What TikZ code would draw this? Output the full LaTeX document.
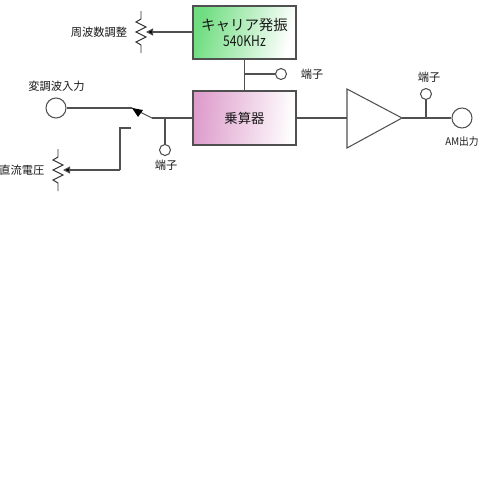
\documentclass[tikz,border=0pt]{standalone}
\usepackage{fontspec}
\setmainfont{Noto Sans CJK JP}
\usetikzlibrary{positioning,arrows.meta,calc}
\definecolor{linegray}{HTML}{505050}
\definecolor{carriergreen}{HTML}{6FDD80}
\definecolor{mixerpink}{HTML}{DD9CCB}
\tikzset{
  >=Stealth,
  block/.style={draw=linegray,line width=0.75pt,minimum width=2.575cm,inner sep=0pt,align=center,text=black!90},
  jack/.style={circle,draw=linegray,line width=0.75pt,fill=white,minimum size=0.5cm,inner sep=0pt},
  tap/.style={circle,draw=linegray,line width=0.75pt,fill=white,minimum size=0.275cm,inner sep=0pt},
  caption/.style={font=\fontsize{8pt}{9pt}\selectfont,text=black!90,inner sep=0pt},
  wire/.style={draw=linegray,line width=0.75pt},
  wiper/.style={wire,-{Triangle[length=5pt,width=5pt,fill=black]}},
  pics/zigzag/.style={code={
    \draw[black!80,line width=0.7pt] (0,-21) -- (0,-13) -- (-5,-10) -- (5,-5)
      -- (-5,0) -- (5,5) -- (-5,10) -- (0,13) -- (0,21);
  }},
}
\begin{document}
\begin{tikzpicture}[x=0.025cm,y=-0.025cm]
\useasboundingbox (0,0) rectangle (480,480);

% blocks
\node[block,minimum height=1.325cm,shade,top color=carriergreen,bottom color=white,shading angle=75] (carrier) at (244.5,32.5)
  {{\fontsize{10.3pt}{12pt}\selectfont キャリア発振}\\[-1pt]{\fontsize{10.5pt}{10pt}\selectfont\scalebox{0.82}[1]{540KHz}}};
\node[block,minimum height=1.35cm,shade,top color=mixerpink,bottom color=white,shading angle=85,font=\fontsize{9.5pt}{11pt}\selectfont] (mixer) at (244.5,118) {乗算器};

% amplifier
\coordinate (ampin) at (347,118);
\coordinate (ampout) at (402,118);
\draw[wire] (347,89) -- (ampout) -- (347,148) -- cycle;

% jacks and taps
\node[jack] (input) at (56,108) {};
\node[jack] (output) at (462,118) {};
\node[tap] (tapa) at (281,74) {};
\node[tap] (tapb) at (165,150) {};
\node[tap] (tapc) at (426,94) {};

% switch
\coordinate (swa) at (132,108);
\coordinate (swb) at (152,118);
\coordinate (swc) at (131,128);
\coordinate (swd) at (120,128);
\coordinate (swe) at (120,170);
\coordinate (jb) at (165,118);
\coordinate (ja) at (244.5,74);
\coordinate (jc) at (426,118);

% pots
\pic (pota) at (141,32) {zigzag};
\pic (potb) at (58,170) {zigzag};
\coordinate (wipa) at (146,32);
\coordinate (wipb) at (63,170);

% labels
\node[caption,anchor=east] (lfreq) at (127.5,32) {周波数調整};
\node[caption] (lmod) at (56.5,86) {変調波入力};
\node[caption,anchor=west] (ldc) at (-1,170) {直流電圧};
\node[caption] (ltapa) at (312,74) {端子};
\node[caption] (ltapb) at (166,165) {端子};
\node[caption] (ltapc) at (429,77) {端子};
\node[caption,font=\fontsize{7.5pt}{9pt}\selectfont] (lam) at (462,142) {\scalebox{0.92}[1]{AM出力}};

\path[wire]
  (carrier) -- (mixer)
  (ja) -- (tapa)
  (mixer.east |- ampin) -- (ampin)
  (ampout) -- (output)
  (jc) -- (tapc)
  (input) -- (swa)
  (swb) -- (mixer.west |- swb)
  (jb) -- (tapb)
  (swc) -- (swd) -- (swe);
\draw[wire] (swa) -- (swb);
\fill[black] (132,108) -- (143,110) -- (138,117) -- cycle;
\draw[wiper] (carrier.west |- wipa) -- (wipa);
\draw[wiper] (swe) -- (wipb);
\end{tikzpicture}
\end{document}
